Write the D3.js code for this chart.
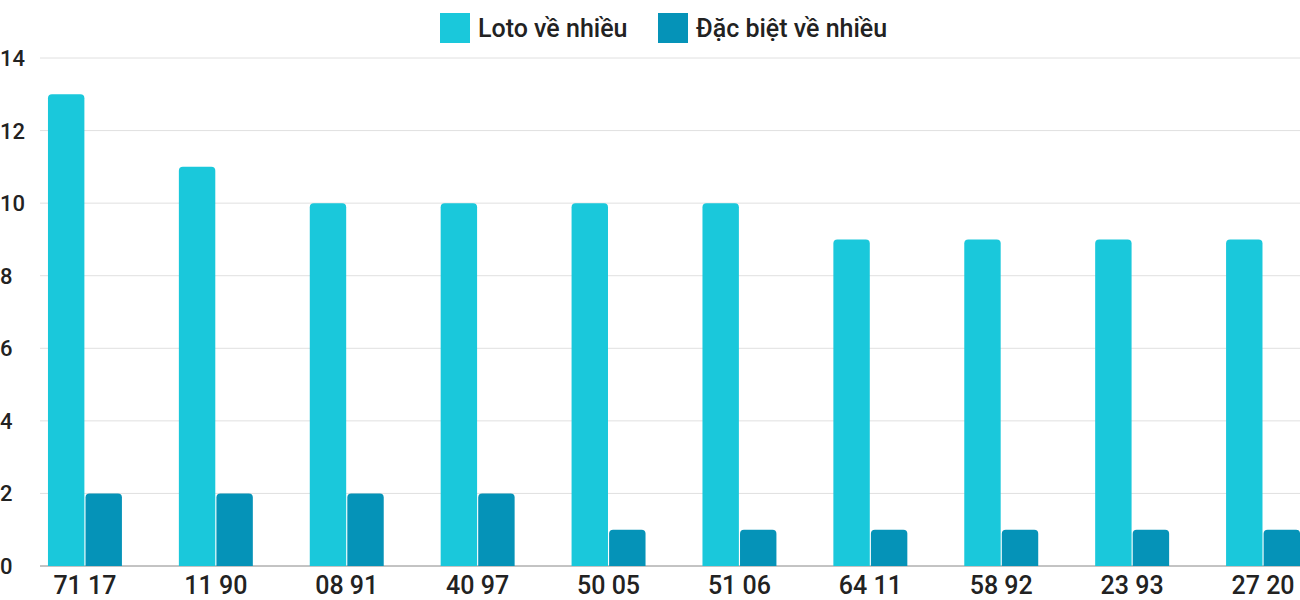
<!DOCTYPE html>
<html><head><meta charset="utf-8">
<script src="https://cdn.jsdelivr.net/npm/d3@7"></script>
<style>body{margin:0;background:#fff}text{font-family:Roboto,sans-serif;font-weight:500}</style>
</head><body><svg id="c" width="1300" height="600"></svg>
<script>
var categories = ['71 17','11 90','08 91','40 97','50 05','51 06','64 11','58 92','23 93','27 20']
var loto = [13,11,10,10,10,10,9,9,9,9]
var dacbiet = [2,2,2,2,1,1,1,1,1,1]
var seriesNames = ['Loto về nhiều','Đặc biệt về nhiều']
var colors = ['#1ac8db','#0593b8']
var yTicks = [0,2,4,6,8,10,12,14]

var svg = d3.select('#c')
var y = d3.scaleLinear().domain([0,14]).range([566,58])
var x = d3.scaleBand().domain(categories).range([19.5,1328.5]).paddingInner(0.435).paddingOuter(0.2175)
var xs = d3.scaleBand().domain([0,1]).range([0,x.bandwidth()]).paddingInner(0.03)

svg.append('g').selectAll('line').data(yTicks).join('line')
	.attr('x1',40).attr('x2',1300).attr('y1',d=>y(d)).attr('y2',d=>y(d))
	.attr('stroke',d=>d===0?'#888':'#e0e0e0').attr('stroke-width',1)
svg.append('g').selectAll('text').data(yTicks).join('text')
	.attr('x',0).attr('y',d=>y(d)+8).text(d=>d)
	.style('font-size','22px').attr('fill','#222')

function bar(x0,w,y0,y1){
	var r = Math.min(4,(y1-y0)/2)
	return 'M'+x0+','+y1+'V'+(y0+r)+'Q'+x0+','+y0+' '+(x0+r)+','+y0+'H'+(x0+w-r)+'Q'+(x0+w)+','+y0+' '+(x0+w)+','+(y0+r)+'V'+y1+'Z'
}
var g = svg.append('g')
;[loto,dacbiet].forEach(function(vals,s){
	g.selectAll('path.s'+s).data(vals).join('path').attr('class','s'+s)
		.attr('d',(d,i)=>bar(x(categories[i])+xs(s),xs.bandwidth(),y(d),y(0)))
		.attr('fill',colors[s])
})
svg.append('g').selectAll('text').data(categories).join('text')
	.attr('x',d=>x(d)+x.bandwidth()/2).attr('y',594).attr('text-anchor','middle')
	.text(d=>d).style('font-size','25px').attr('fill','#222')

var leg = svg.append('g')
var lx = [440,658]
seriesNames.forEach(function(n,i){
	leg.append('rect').attr('x',lx[i]).attr('y',13).attr('width',30).attr('height',30).attr('fill',colors[i])
	leg.append('text').attr('x',lx[i]+38).attr('y',37).text(n).style('font-size','25px').attr('fill','#222')
})
</script></body></html>
